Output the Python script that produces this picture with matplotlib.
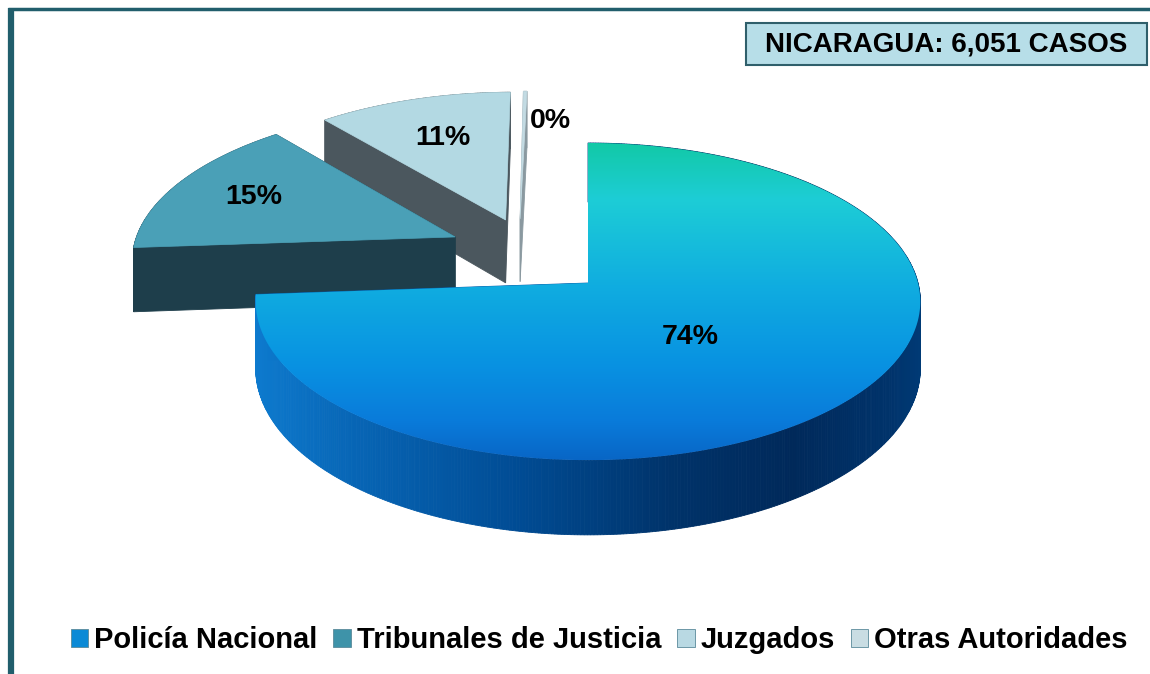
import numpy as np
import matplotlib
matplotlib.use("Agg")
import matplotlib.pyplot as plt
from matplotlib.patches import Polygon, Rectangle, Patch
from matplotlib.colors import LinearSegmentedColormap

# ---------------- data ----------------
categories = ["Policía Nacional", "Tribunales de Justicia", "Juzgados", "Otras Autoridades"]
values = [74, 15, 11, 0.2]
title_text = "NICARAGUA: 6,051 CASOS"

# ---------------- style ----------------
FONT = "Liberation Sans"
W, H_PX = 1150, 674
CX, CY = 588, 283          # pie centre (pixels)
RX, RY = 330, 156.4        # radii (pixels)
P = 0.117                  # perspective factor
DEPTH = 66                 # thickness (pixels)
explode = [(0.0, 0.0), (-0.417, 0.305), (-0.262, 0.423), (-0.216, 0.431)]
top_colors = [None, "#4aa0b7", "#b3d9e3", "#c3dbe3"]
side_colors = [None, "#1e3e4b", "#4b575e", "#8a99a0"]
legend_colors = ["#0b8ad6", "#3e93a9", "#b9d9e3", "#c9dde3"]
label_r = [0.445, 0.72, 0.66, 0.75]
label_ang_shift = [-5, 0, 0, -7]

fig = plt.figure(figsize=(W / 100, H_PX / 100), dpi=100)
ax = fig.add_axes([0, 0, 1, 1])
ax.set_xlim(0, W)
ax.set_ylim(H_PX, 0)
ax.axis("off")


def proj(u, v, z=0.0):
    f = 1.0 / (1.0 + P * v)
    return CX + RX * u * f, CY - RY * v * f + DEPTH * z * f


main_top_cmap = LinearSegmentedColormap.from_list(
    "top", [(0.0, "#12c9a6"), (0.18, "#1dcdd6"), (0.45, "#10ade0"),
            (0.7, "#0892e2"), (0.88, "#0a7bda"), (1.0, "#0866c6")])
main_side_cmap = LinearSegmentedColormap.from_list(
    "side", [(0.0, "#0d7ace"), (0.15, "#0765b5"), (0.4, "#004b93"),
             (0.62, "#00336a"), (0.8, "#00295a"), (0.95, "#00336b"), (1.0, "#003b77")])

total = float(sum(values))
z = [1]

def nz():
    z[0] += 1
    return z[0]

# slice angles (start at 12 o'clock, clockwise)
angles = []
cum = 0.0
for v in values:
    t1 = 90 - cum / total * 360
    t2 = t1 - v / total * 360
    angles.append((t2, t1))
    cum += v

order = sorted(range(len(values)), key=lambda i: -explode[i][1])

for i in order:
    t2, t1 = angles[i]
    ox, oy = explode[i]
    th = np.radians(np.linspace(t2, t1, max(8, int((t1 - t2) * 2))))
    faces = []
    for a, b in zip(th[:-1], th[1:]):
        ua, va = ox + np.cos(a), oy + np.sin(a)
        ub, vb = ox + np.cos(b), oy + np.sin(b)
        quad = [proj(ua, va), proj(ub, vb), proj(ub, vb, 1), proj(ua, va, 1)]
        faces.append(((va + vb) / 2, quad, "arc"))
    for a in (th[0], th[-1]):
        ur, vr = ox + np.cos(a), oy + np.sin(a)
        quad = [proj(ox, oy), proj(ur, vr), proj(ur, vr, 1), proj(ox, oy, 1)]
        faces.append(((oy + vr) / 2, quad, "rad"))
    faces.sort(key=lambda t: -t[0])
    for depth, quad, kind in faces:
        if i == 0:
            xm = np.mean([p[0] for p in quad])
            c = main_side_cmap(np.clip((xm - 255) / 670, 0, 1))
        else:
            c = side_colors[i]
        ax.add_patch(Polygon(quad, closed=True, facecolor=c, edgecolor=c,
                             linewidth=0.6, zorder=nz()))
    pts = [proj(ox, oy)] + [proj(ox + np.cos(a), oy + np.sin(a)) for a in th]
    zz = nz()
    if i == 0:
        poly = Polygon(pts, closed=True, facecolor="none", edgecolor="none", zorder=zz)
        ax.add_patch(poly)
        ys = [p[1] for p in pts]
        y0, y1 = min(ys), max(ys)
        grad = np.linspace(0, 1, 256).reshape(-1, 1)
        im = ax.imshow(grad, cmap=main_top_cmap, aspect="auto", origin="upper",
                       extent=(250, 930, y1, y0), zorder=zz, interpolation="bilinear")
        im.set_clip_path(poly)
    else:
        ax.add_patch(Polygon(pts, closed=True, facecolor=top_colors[i],
                             edgecolor=top_colors[i], linewidth=0.5, zorder=zz))

ax.set_xlim(0, W)
ax.set_ylim(H_PX, 0)
ZTOP = z[0] + 100

# labels
for i, v in enumerate(values):
    t2, t1 = angles[i]
    ox, oy = explode[i]
    m = np.radians((t1 + t2) / 2 + label_ang_shift[i])
    x, y = proj(ox + label_r[i] * np.cos(m), oy + label_r[i] * np.sin(m))
    ax.text(x, y, f"{round(v / total * 100):.0f}%", ha="center", va="center",
            fontsize=20.5, fontweight="bold", family=FONT, color="black", zorder=ZTOP)

# title box
ax.add_patch(Rectangle((746, 23), 401, 42, facecolor="#b7dee8", edgecolor="#2f5f6b",
                       linewidth=1.5, zorder=ZTOP))
ax.text(946.5, 44.5, title_text, ha="center", va="center", fontsize=20,
        fontweight="bold", family=FONT, color="black", zorder=ZTOP + 1)

# frame lines
ax.plot([10.5, 10.5], [8, H_PX], color="#215e6c", linewidth=4.5, solid_capstyle="butt", zorder=ZTOP)
ax.plot([8, W], [8.5, 8.5], color="#215e6c", linewidth=2.5, solid_capstyle="butt", zorder=ZTOP)

# legend
handles = [Patch(facecolor=c, edgecolor="#5a8a9a", linewidth=0.6) for c in legend_colors]
leg = ax.legend(handles, categories, loc="center", bbox_to_anchor=(0.521, 0.05),
                ncol=4, frameon=False, handlelength=0.6, handleheight=0.6,
                handletextpad=0.2, columnspacing=0.55,
                prop={"family": FONT, "weight": "bold", "size": 21})
leg.set_zorder(ZTOP)

fig.savefig("out.png", dpi=100, facecolor="white")
